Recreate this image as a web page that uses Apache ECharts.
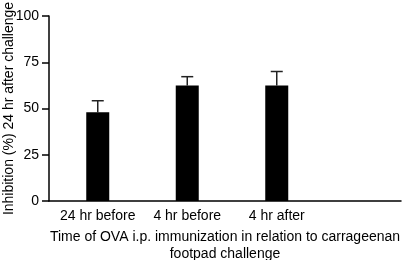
<!DOCTYPE html>
<html>
<head>
<meta charset="utf-8">
<script src="https://cdn.jsdelivr.net/npm/echarts@6/dist/echarts.min.js"></script>
<style>html,body{margin:0;padding:0;background:#fff;}#c{width:402px;height:260px;}</style>
</head>
<body>
<div id="c"></div>
<script>
var categories = ['24 hr before', '4 hr before', '4 hr after', ''];
var inhibition = [48, 62.5, 62.5];
var errorTop = [54.2, 67.2, 70];
var yTicks = [0, 25, 50, 75, 100];
var yName = 'Inhibition (%) 24 hr after challenge';
var xName = 'Time of OVA i.p. immunization in relation to carrageenan\nfootpad challenge';

var font = 'Liberation Sans, Arial, Helvetica, sans-serif';
var chart = echarts.init(document.getElementById('c'), null, {renderer: 'canvas'});
var errData = inhibition.map(function (v, i) { return [i, v, errorTop[i]]; });

chart.setOption({
  animation: false,
  backgroundColor: '#fff',
  grid: [
    {left: 49, right: 1, top: 16, bottom: 59, containLabel: false, outerBoundsMode: 'none'},
    {left: 53, right: -9, top: 16, bottom: 59, containLabel: false, outerBoundsMode: 'none'}
  ],
  xAxis: [
    {
      gridIndex: 0, type: 'value', min: 0, max: 1,
      axisLine: {show: true, lineStyle: {color: '#000', width: 1.5}},
      axisTick: {show: false}, axisLabel: {show: false}, splitLine: {show: false},
      name: xName, nameLocation: 'middle', nameGap: 28, nameMoveOverlap: false,
      nameTextStyle: {color: '#000', fontFamily: font, fontSize: 14, lineHeight: 17}
    },
    {
      gridIndex: 1, type: 'category', data: categories,
      axisLine: {show: false}, axisTick: {show: false},
      axisLabel: {color: '#000', fontFamily: font, fontSize: 14, margin: 8, interval: 0}
    }
  ],
  yAxis: [
    {
      gridIndex: 0, type: 'value', min: 0, max: 100, interval: 25,
      axisLine: {show: true, lineStyle: {color: '#000', width: 1.5}},
      axisTick: {show: true, inside: false, length: 7, lineStyle: {color: '#000', width: 1.5}},
      axisLabel: {color: '#000', fontFamily: font, fontSize: 14, margin: 10,
        formatter: function (v) { return yTicks.indexOf(v) >= 0 ? String(v) : ''; }},
      splitLine: {show: false},
      name: yName, nameLocation: 'middle', nameGap: 33, nameRotate: 90, nameMoveOverlap: false,
      nameTextStyle: {color: '#000', fontFamily: font, fontSize: 14}
    },
    {
      gridIndex: 1, type: 'value', min: 0, max: 100, show: false
    }
  ],
  series: [
    {
      type: 'bar', xAxisIndex: 1, yAxisIndex: 1, data: inhibition,
      barWidth: 23, itemStyle: {color: '#000'}
    },
    {
      type: 'custom', xAxisIndex: 1, yAxisIndex: 1, data: errData,
      renderItem: function (params, api) {
        var base = api.coord([api.value(0), api.value(1)]);
        var top = api.coord([api.value(0), api.value(2)]);
        var hw = 6;
        var st = {stroke: '#222', lineWidth: 1.5};
        return {
          type: 'group',
          children: [
            {type: 'line', shape: {x1: base[0], y1: base[1], x2: top[0], y2: top[1]}, style: st},
            {type: 'line', shape: {x1: top[0] - hw, y1: top[1], x2: top[0] + hw, y2: top[1]}, style: st}
          ]
        };
      }
    }
  ]
});
</script>
</body>
</html>
